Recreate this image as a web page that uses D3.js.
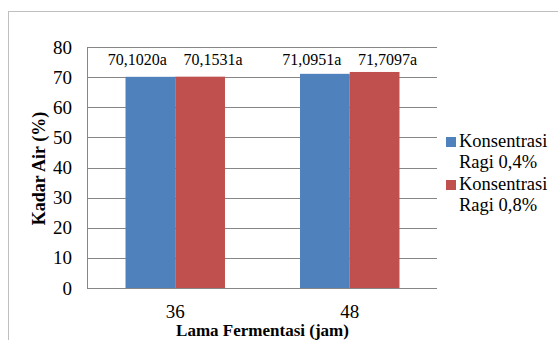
<!DOCTYPE html>
<html>
<head>
<meta charset="utf-8">
<script src="https://cdn.jsdelivr.net/npm/d3@7/dist/d3.min.js"></script>
<style>
  body { margin: 0; background: #fff; }
</style>
</head>
<body>
<div id="chart"></div>
<script>
"use strict";

var categories = ["36", "48"];
var seriesNames = ["Konsentrasi Ragi 0,4%", "Konsentrasi Ragi 0,8%"];
var ragi04 = [70.102, 71.0951];
var ragi08 = [70.1531, 71.7097];
var labels04 = ["70,1020a", "71,0951a"];
var labels08 = ["70,1531a", "71,7097a"];
var yTicks = [0, 10, 20, 30, 40, 50, 60, 70, 80];

var colors = ["#4F81BD", "#C0504D"];
var FONT = "'Liberation Serif'";

var width = 558, height = 340;
var margin = { top: 47, left: 88, right: 121, bottom: 52 };
var plotW = width - margin.left - margin.right;
var plotH = height - margin.top - margin.bottom;

var svg = d3.select("#chart")
  .append("svg")
  .attr("width", width)
  .attr("height", height)
  .style("font-family", FONT);

// outer chart frame
svg.append("rect")
  .attr("x", 8.5)
  .attr("y", 11.5)
  .attr("width", 600)
  .attr("height", 400)
  .attr("fill", "none")
  .attr("stroke", "#BFBFBF");

var g = svg.append("g")
  .attr("transform", "translate(" + margin.left + "," + margin.top + ")");

var x0 = d3.scaleBand().domain(categories).range([0, plotW]).paddingInner(0.43).paddingOuter(0.215);
var x1 = d3.scaleBand().domain([0, 1]).range([0, x0.bandwidth()]);
var y = d3.scaleLinear().domain([0, 80]).range([plotH, 0]);

// gridlines
g.selectAll("line.grid")
  .data(yTicks)
  .enter()
  .append("line")
  .attr("class", "grid")
  .attr("x1", 0)
  .attr("x2", plotW)
  .attr("y1", function(d) { return Math.round(y(d)) + 0.5; })
  .attr("y2", function(d) { return Math.round(y(d)) + 0.5; })
  .attr("stroke", "#868686")
  .attr("stroke-width", 1);

// y axis line
g.append("line")
  .attr("x1", -0.5).attr("x2", -0.5)
  .attr("y1", 0).attr("y2", plotH + 1)
  .attr("stroke", "#868686");

var yAxis = d3.axisLeft(y).tickValues(yTicks).tickSize(0).tickPadding(16);
var ya = g.append("g").call(yAxis).attr("font-family", null).attr("font-size", null);
ya.select(".domain").remove();
ya.selectAll("text")
  .style("font-size", "19px")
  .style("font-family", FONT)
  .attr("fill", "#000");

var xAxis = d3.axisBottom(x0).tickSize(0).tickPadding(17);
var xa = g.append("g").attr("transform", "translate(0," + plotH + ")").call(xAxis)
  .attr("font-family", null).attr("font-size", null);
xa.select(".domain").remove();
xa.selectAll("text")
  .style("font-size", "19px")
  .style("font-family", FONT)
  .attr("fill", "#000");

var rows = categories.map(function(c, i) {
  return { cat: c, vals: [ragi04[i], ragi08[i]], labs: [labels04[i], labels08[i]] };
});

var groups = g.selectAll("g.cat")
  .data(rows)
  .enter()
  .append("g")
  .attr("class", "cat")
  .attr("transform", function(d) { return "translate(" + x0(d.cat) + ",0)"; });

groups.selectAll("rect")
  .data(function(d) { return d.vals; })
  .enter()
  .append("rect")
  .attr("x", function(d, i) { return x1(i); })
  .attr("width", x1.bandwidth())
  .attr("y", function(d) { return y(d); })
  .attr("height", function(d) { return plotH - y(d); })
  .attr("fill", function(d, i) { return colors[i]; });

// value labels (spread apart so they do not collide)
groups.selectAll("text.val")
  .data(function(d) { return d.labs; })
  .enter()
  .append("text")
  .attr("class", "val")
  .attr("x", function(d, i) { return x1(i) + x1.bandwidth() / 2 + (i === 0 ? -13 : 13); })
  .attr("y", 65 - margin.top)
  .attr("text-anchor", "middle")
  .style("font-family", FONT)
  .style("font-size", "16px")
  .text(function(d) { return d; });

// axis titles
svg.append("text")
  .attr("transform", "translate(45," + (margin.top + plotH / 2 + 1) + ") rotate(-90)")
  .attr("text-anchor", "middle")
  .style("font-family", FONT)
  .style("font-size", "18px")
  .style("font-weight", "bold")
  .text("Kadar Air (%)");

svg.append("text")
  .attr("x", margin.left + plotW / 2)
  .attr("y", 336)
  .attr("text-anchor", "middle")
  .style("font-family", FONT)
  .style("font-size", "17px")
  .style("font-weight", "bold")
  .text("Lama Fermentasi (jam)");

// legend
var legend = svg.selectAll("g.legend")
  .data(seriesNames)
  .enter()
  .append("g")
  .attr("class", "legend")
  .attr("transform", function(d, i) { return "translate(446," + (137 + i * 43) + ")"; });

legend.append("rect")
  .attr("width", 10)
  .attr("height", 10)
  .attr("fill", function(d, i) { return colors[i]; });

legend.append("text")
  .attr("x", 13)
  .attr("y", 10)
  .style("font-family", FONT)
  .style("font-size", "18.5px")
  .each(function(d) {
    var t = d3.select(this);
    var words = d.split(" ");
    t.append("tspan").attr("x", 13).attr("dy", 0).text(words[0]);
    t.append("tspan").attr("x", 13).attr("dy", 21).text(words.slice(1).join(" "));
  });
</script>
</body>
</html>
